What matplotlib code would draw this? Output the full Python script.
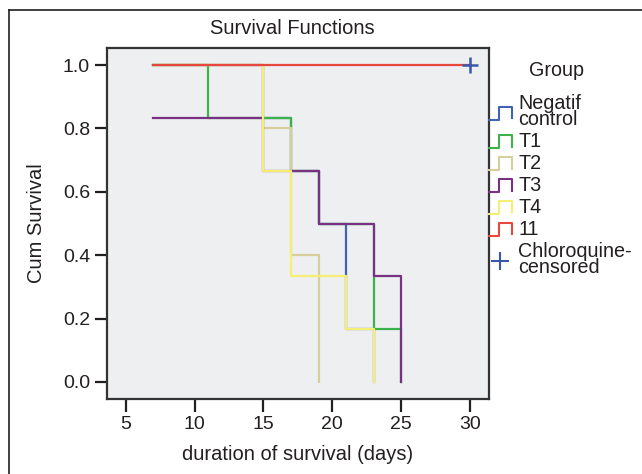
import matplotlib
matplotlib.use("Agg")
import matplotlib.pyplot as plt
from matplotlib.lines import Line2D
from matplotlib.legend_handler import HandlerBase

plt.rcParams["font.family"] = ["Liberation Sans", "DejaVu Sans"]

# Kaplan-Meier step data per group (time, cumulative survival)
groups = ["Negatif\ncontrol", "T1", "T2", "T3", "T4", "11"]
times = {
    "Negatif\ncontrol": [7, 15, 17, 19, 21, 23],
    "T1": [7, 11, 17, 19, 23, 25],
    "T2": [7, 15, 17, 19],
    "T3": [7, 15, 19, 23, 25],
    "T4": [7, 15, 17, 21, 23],
    "11": [7, 30],
}
surv = {
    "Negatif\ncontrol": [1.0, 0.833, 0.667, 0.5, 0.167, 0.0],
    "T1": [1.0, 0.833, 0.667, 0.5, 0.167, 0.0],
    "T2": [1.0, 0.8, 0.4, 0.0],
    "T3": [0.833, 0.667, 0.5, 0.333, 0.0],
    "T4": [1.0, 0.667, 0.333, 0.167, 0.0],
    "11": [1.0, 1.0],
}
colors = ["#4262b4", "#3cb34a", "#d5cf9b", "#7a3184", "#f6ee72", "#e8473d"]
censor_t = [30]
censor_s = [1.0]

xticks = [5, 10, 15, 20, 25, 30]
yticks = [0.0, 0.2, 0.4, 0.6, 0.8, 1.0]

INK = "#231f20"


class StepHandler(HandlerBase):
    # small step icon like the SPSS legend
    def create_artists(self, legend, orig, xd, yd, w, h, fontsize, trans):
        xs = [xd, xd + 0.45 * w, xd + 0.45 * w, xd + w, xd + w]
        ys = [yd, yd, yd + h, yd + h, yd + 0.1 * h]
        ln = Line2D(xs, ys, color=orig.get_color(), lw=1.5)
        ln.set_transform(trans)
        return [ln]


fig = plt.figure(figsize=(6.42, 4.74), dpi=100)
ax = fig.add_axes([0.1662, 0.1582, 0.596, 0.7405])
ax.set_facecolor("#eeeff1")

handles = []
for g, c in zip(groups, colors):
    ax.step(times[g], surv[g], where="post", color=c, lw=1.6)
    handles.append(Line2D([], [], color=c))

ax.plot(censor_t, censor_s, marker="+", ls="none", color="#3a58a8",
        markersize=12, mew=1.8)
cens_handle = Line2D([], [], marker="+", ls="none", color="#3a58a8",
                     markersize=13, mew=1.5)

ax.set_xlim(3.62, 31.4)
ax.set_ylim(-0.054, 1.054)
ax.set_xticks(xticks)
ax.set_yticks(yticks)
ax.set_yticklabels([f"{v:.1f}" for v in yticks])
ax.tick_params(length=9, width=1.6, labelsize=14, color=INK,
               labelcolor=INK, pad=3)
for sp in ax.spines.values():
    sp.set_linewidth(1.6)
    sp.set_color("#333333")

ax.set_title("Survival Functions", fontsize=14.5, color=INK, pad=10, x=0.485)
ax.set_xlabel("duration of survival (days)", fontsize=14.5, color=INK,
              labelpad=9)
ax.set_ylabel("Cum Survival", fontsize=14.5, color=INK, labelpad=12)

handler_map = {h: StepHandler() for h in handles}
leg = fig.legend(handles + [cens_handle], groups + ["Chloroquine-\ncensored"],
                 handler_map=handler_map, loc="upper left",
                 bbox_to_anchor=(0.740, 0.831), frameon=False,
                 fontsize=14.2,
                 handlelength=1.15, handleheight=0.6, handletextpad=0.35,
                 labelspacing=0.15, borderpad=0.2)
for txt in leg.get_texts():
    txt.set_linespacing(0.82)
    txt.set_color(INK)
fig.text(557 / 642, 1 - 70 / 474, "Group", fontsize=14.2, color=INK,
         ha="center", va="center")

# outer frame (left and top edges only)
fig.add_artist(Line2D([0.014, 0.014], [0.0, 0.979], transform=fig.transFigure,
                      color=INK, lw=1.2))
fig.add_artist(Line2D([0.014, 1.0], [0.979, 0.979], transform=fig.transFigure,
                      color=INK, lw=1.2))

fig.savefig("out.png", dpi=100)
